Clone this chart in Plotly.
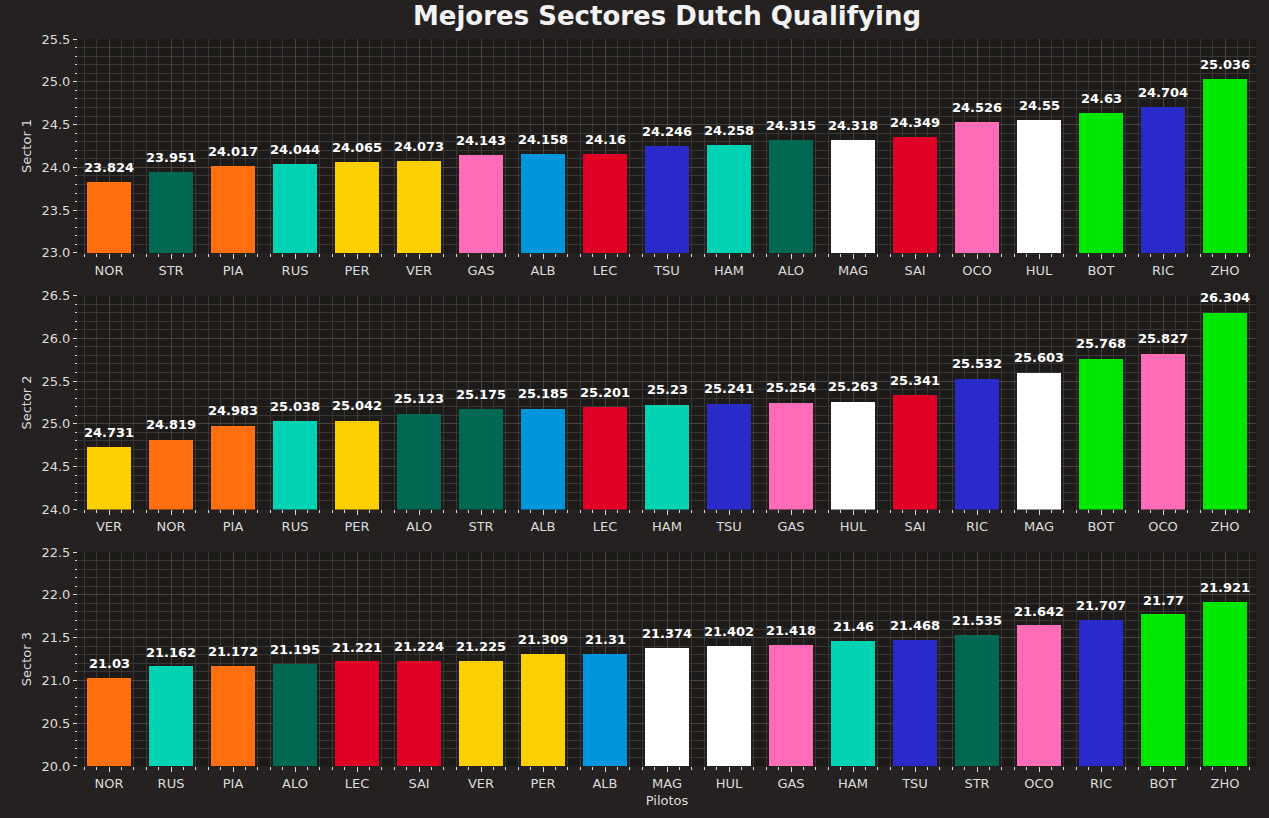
import plotly.graph_objects as go
from plotly.subplots import make_subplots

# ---------------- data ----------------
s1_drivers = ["NOR", "STR", "PIA", "RUS", "PER", "VER", "GAS", "ALB", "LEC", "TSU",
              "HAM", "ALO", "MAG", "SAI", "OCO", "HUL", "BOT", "RIC", "ZHO"]
s1_times = [23.824, 23.951, 24.017, 24.044, 24.065, 24.073, 24.143, 24.158, 24.16, 24.246,
            24.258, 24.315, 24.318, 24.349, 24.526, 24.55, 24.63, 24.704, 25.036]

s2_drivers = ["VER", "NOR", "PIA", "RUS", "PER", "ALO", "STR", "ALB", "LEC", "HAM",
              "TSU", "GAS", "HUL", "SAI", "RIC", "MAG", "BOT", "OCO", "ZHO"]
s2_times = [24.731, 24.819, 24.983, 25.038, 25.042, 25.123, 25.175, 25.185, 25.201, 25.23,
            25.241, 25.254, 25.263, 25.341, 25.532, 25.603, 25.768, 25.827, 26.304]

s3_drivers = ["NOR", "RUS", "PIA", "ALO", "LEC", "SAI", "VER", "PER", "ALB", "MAG",
              "HUL", "GAS", "HAM", "TSU", "STR", "OCO", "RIC", "BOT", "ZHO"]
s3_times = [21.03, 21.162, 21.172, 21.195, 21.221, 21.224, 21.225, 21.309, 21.31, 21.374,
            21.402, 21.418, 21.46, 21.468, 21.535, 21.642, 21.707, 21.77, 21.921]

y_ranges = [[23.0, 25.5], [24.0, 26.5], [20.0, 22.5]]
y_titles = ["Sector 1", "Sector 2", "Sector 3"]
x_title = "Pilotos"
title = "Mejores Sectores Dutch Qualifying"

driver_colors = {
    "NOR": "#ff6f10", "PIA": "#ff6f10",
    "STR": "#006954", "ALO": "#006954",
    "RUS": "#00d2b4", "HAM": "#00d2b4",
    "PER": "#fcd000", "VER": "#fcd000",
    "GAS": "#ff6cb8", "OCO": "#ff6cb8",
    "ALB": "#0096dc",
    "LEC": "#e00025", "SAI": "#e00025",
    "TSU": "#2a2acb", "RIC": "#2a2acb",
    "MAG": "#ffffff", "HUL": "#ffffff",
    "BOT": "#00e800", "ZHO": "#00e800",
}

# ---------------- style ----------------
PAPER = "#242120"
PLOT = "#1d1b1a"
GRID_MAJOR = "#4c433e"
GRID_MINOR = "#393533"
TICK_COLOR = "#dcdcdc"
FONT = "DejaVu Sans"

W, H = 1269, 818
L, R, T, B = 78, 13, 39, 46
plot_h = H - T - B
gap = 43

fig = make_subplots(rows=3, cols=1, vertical_spacing=gap / plot_h)

sectors = [(s1_drivers, s1_times), (s2_drivers, s2_times), (s3_drivers, s3_times)]

for r, (drivers, times) in enumerate(sectors, start=1):
    xs = list(range(len(drivers)))
    fig.add_trace(
        go.Bar(
            x=xs, y=times, width=0.7,
            marker=dict(color=[driver_colors[d] for d in drivers], line=dict(width=0)),
            showlegend=False, hoverinfo="skip",
        ),
        row=r, col=1,
    )
    xref = "x" if r == 1 else f"x{r}"
    yref = "y" if r == 1 else f"y{r}"
    for xi, t in zip(xs, times):
        fig.add_annotation(
            x=xi, y=t, xref=xref, yref=yref, text=f"<b>{t}</b>",
            showarrow=False, yanchor="bottom", yshift=5,
            font=dict(family=FONT, size=13, color="#ffffff"),
        )
    fig.update_xaxes(
        row=r, col=1,
        range=[-0.5, len(drivers) - 0.5],
        tickmode="array", tickvals=xs, ticktext=drivers,
        ticks="outside", ticklen=5, tickwidth=1, tickcolor=TICK_COLOR,
        tickfont=dict(family=FONT, size=13, color=TICK_COLOR),
        showgrid=True, gridcolor=GRID_MAJOR, gridwidth=1,
        zeroline=False, showline=False,
        minor=dict(dtick=0.2, tick0=0, ticks="outside", ticklen=3, tickwidth=1,
                   tickcolor=TICK_COLOR, showgrid=True, gridcolor=GRID_MINOR, gridwidth=1),
    )
    fig.update_yaxes(
        row=r, col=1,
        range=y_ranges[r - 1],
        dtick=0.5, tick0=0, tickformat=".1f",
        ticks="outside", ticklen=4, tickwidth=1, tickcolor=TICK_COLOR,
        tickfont=dict(family=FONT, size=13, color=TICK_COLOR),
        showgrid=True, gridcolor=GRID_MAJOR, gridwidth=1,
        zeroline=False, showline=False,
        title=dict(text=y_titles[r - 1], font=dict(family=FONT, size=13, color=TICK_COLOR),
                   standoff=6),
        minor=dict(dtick=0.1, tick0=0, ticks="outside", ticklen=2, tickwidth=1,
                   tickcolor=TICK_COLOR, showgrid=True, gridcolor=GRID_MINOR, gridwidth=1),
    )

fig.update_xaxes(row=3, col=1,
                 title=dict(text=x_title, font=dict(family=FONT, size=13, color=TICK_COLOR),
                            standoff=6))

fig.update_layout(
    width=W, height=H,
    margin=dict(l=L, r=R, t=T, b=B, pad=0),
    paper_bgcolor=PAPER, plot_bgcolor=PLOT,
    bargap=0,
    font=dict(family=FONT, color=TICK_COLOR),
    title=dict(text=f"<b>{title}</b>", x=0.5, xref="paper", xanchor="center",
               y=1 - 16 / H, yref="container", yanchor="middle",
               font=dict(family=FONT, size=26, color="#f2f2f2")),
)

fig.write_html("out.html")
